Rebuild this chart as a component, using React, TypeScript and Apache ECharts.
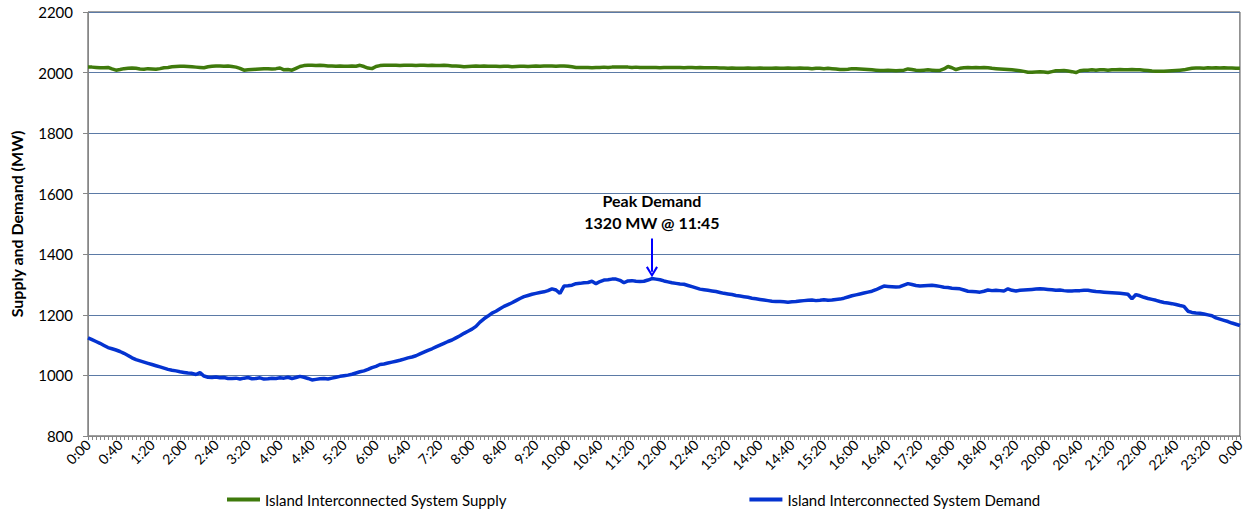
import React, { useEffect, useRef } from "react";
import * as echarts from "echarts";

// 5-minute intervals from 0:00 to 24:00 (shown as 0:00)
const categories: string[] = [];
for (let i = 0; i <= 288; i++) {
  const mins = i * 5;
  const h = Math.floor(mins / 60) % 24;
  const m = mins % 60;
  categories.push(`${h}:${m < 10 ? "0" + m : m}`);
}

const supply: number[] = [
  2018, 2018, 2017, 2016, 2016, 2017, 2012, 2008, 2010, 2013, 2014, 2015,
  2014, 2012, 2011, 2013, 2012, 2011, 2013, 2016, 2017, 2019, 2020, 2021,
  2021, 2020, 2019, 2018, 2017, 2016, 2019, 2021, 2022, 2022, 2021, 2022,
  2020, 2018, 2014, 2008, 2009, 2010, 2011, 2012, 2013, 2013, 2012, 2013,
  2015, 2009, 2010, 2008, 2014, 2020, 2023, 2024, 2024, 2023, 2024, 2023,
  2022, 2022, 2021, 2022, 2021, 2021, 2022, 2021, 2024, 2020, 2015, 2013,
  2020, 2023, 2024, 2024, 2024, 2024, 2023, 2024, 2024, 2024, 2023, 2024,
  2024, 2023, 2024, 2023, 2023, 2024, 2023, 2022, 2022, 2021, 2019, 2020,
  2021, 2022, 2021, 2022, 2021, 2021, 2021, 2020, 2021, 2021, 2019, 2020,
  2021, 2021, 2020, 2021, 2022, 2021, 2022, 2022, 2022, 2021, 2022, 2022,
  2021, 2019, 2017, 2017, 2017, 2017, 2016, 2017, 2017, 2018, 2017, 2018,
  2018, 2018, 2018, 2018, 2017, 2018, 2017, 2017, 2017, 2017, 2017, 2016,
  2017, 2017, 2017, 2017, 2017, 2016, 2017, 2017, 2016, 2017, 2016, 2016,
  2016, 2016, 2015, 2015, 2014, 2015, 2014, 2014, 2014, 2015, 2014, 2014,
  2015, 2014, 2014, 2014, 2015, 2014, 2014, 2015, 2014, 2014, 2015, 2014,
  2014, 2013, 2014, 2014, 2013, 2014, 2013, 2012, 2010, 2010, 2011, 2013,
  2013, 2012, 2011, 2010, 2009, 2008, 2007, 2007, 2008, 2007, 2006, 2007,
  2008, 2012, 2010, 2008, 2007, 2008, 2009, 2008, 2007, 2007, 2012, 2020,
  2016, 2010, 2014, 2016, 2017, 2016, 2017, 2016, 2017, 2016, 2014, 2013,
  2012, 2011, 2010, 2009, 2008, 2006, 2004, 2001, 2001, 2002, 2003, 2002,
  2000, 2003, 2006, 2006, 2007, 2005, 2003, 2000, 2006, 2008, 2008, 2009,
  2008, 2009, 2009, 2008, 2009, 2009, 2010, 2009, 2009, 2010, 2009, 2009,
  2008, 2007, 2005, 2004, 2004, 2004, 2005, 2006, 2007, 2008, 2009, 2012,
  2014, 2015, 2015, 2014, 2016, 2015, 2016, 2015, 2016, 2015, 2015, 2014,
  2014,
];

const demand: number[] = [
  1124, 1118, 1112, 1106, 1099, 1092, 1088, 1084, 1079, 1073, 1066, 1058,
  1052, 1048, 1044, 1040, 1036, 1032, 1028, 1024, 1020, 1017, 1015, 1012,
  1010, 1008, 1007, 1003, 1009, 998, 994, 993, 995, 992, 993, 990,
  990, 991, 988, 991, 993, 989, 990, 992, 988, 989, 991, 990,
  992, 991, 994, 990, 993, 997, 994, 990, 985, 987, 989, 990,
  988, 991, 994, 997, 999, 1001, 1004, 1008, 1012, 1015, 1020, 1026,
  1030, 1036, 1038, 1041, 1044, 1047, 1050, 1054, 1058, 1061, 1065, 1071,
  1077, 1083, 1088, 1094, 1100, 1106, 1112, 1117, 1124, 1131, 1139, 1146,
  1153, 1162, 1176, 1187, 1196, 1206, 1212, 1220, 1228, 1234, 1240, 1247,
  1254, 1260, 1264, 1268, 1271, 1274, 1276, 1280, 1286, 1282, 1271, 1295,
  1296, 1298, 1303, 1304, 1306, 1307, 1311, 1303, 1310, 1315, 1316, 1318,
  1318, 1314, 1306, 1312, 1313, 1311, 1310, 1311, 1315, 1320, 1318, 1316,
  1312, 1309, 1306, 1304, 1302, 1301, 1297, 1293, 1289, 1285, 1283, 1281,
  1279, 1277, 1274, 1271, 1269, 1267, 1264, 1262, 1260, 1258, 1255, 1253,
  1251, 1249, 1247, 1245, 1244, 1244, 1243, 1242, 1243, 1244, 1246, 1247,
  1248, 1249, 1247, 1248, 1250, 1248, 1249, 1251, 1252, 1255, 1259, 1263,
  1266, 1269, 1272, 1275, 1278, 1283, 1289, 1295, 1294, 1293, 1292, 1293,
  1298, 1303, 1300, 1297, 1295, 1296, 1297, 1298, 1296, 1294, 1291, 1290,
  1288, 1287, 1286, 1282, 1278, 1277, 1276, 1275, 1278, 1282, 1280, 1281,
  1280, 1279, 1286, 1281, 1279, 1281, 1282, 1283, 1284, 1285, 1286, 1285,
  1284, 1283, 1281, 1282, 1280, 1279, 1279, 1280, 1280, 1281, 1281, 1279,
  1277, 1276, 1275, 1274, 1273, 1272, 1271, 1270, 1268, 1253, 1267, 1263,
  1258, 1254, 1251, 1248, 1244, 1241, 1239, 1237, 1234, 1231, 1228, 1212,
  1208, 1206, 1205, 1203, 1200, 1197, 1190, 1186, 1182, 1178, 1173, 1169,
  1165,
];

const seriesNames = [
  "Island Interconnected System Supply",
  "Island Interconnected System Demand",
];
const peakTime = "11:45";
const peakValue = 1320;
const peakLabel = ["Peak Demand", `${peakValue} MW @ ${peakTime}`];

const FONT = "Lato, 'Open Sans', sans-serif";
const CHEVRON = "path://M0,10 L6,0 L12,10 L10.2,11.2 L6,4 L1.8,11.2 Z";

export default function App() {
  const ref = useRef<HTMLDivElement>(null);
  useEffect(() => {
    if (!ref.current) return;
    const chart = echarts.init(ref.current, undefined, { renderer: "svg" });
    chart.setOption({
      animation: false,
      backgroundColor: "#ffffff",
      textStyle: { fontFamily: FONT },
      grid: {
        left: 81,
        top: 12,
        width: 1162,
        height: 424,
        show: true,
        borderColor: "#404040",
        borderWidth: 1,
        backgroundColor: "transparent",
      },
      legend: {
        bottom: 2,
        left: 222,
        itemGap: 243,
        itemWidth: 33,
        itemHeight: 4,
        icon: "rect",
        textStyle: { fontFamily: FONT, fontSize: 15, color: "#000" },
        data: seriesNames,
      },
      xAxis: {
        type: "category",
        data: categories,
        boundaryGap: false,
        axisLine: { lineStyle: { color: "#868686" } },
        axisTick: { interval: 0, length: 4, lineStyle: { color: "#868686" } },
        axisLabel: {
          interval: 7,
          rotate: 45,
          fontSize: 14,
          color: "#000",
          fontFamily: FONT,
          margin: 6,
        },
        splitLine: { show: false },
      },
      yAxis: {
        type: "value",
        min: 800,
        max: 2200,
        interval: 200,
        name: "Supply and Demand (MW)",
        nameLocation: "middle",
        nameRotate: 90,
        nameGap: 64,
        nameTextStyle: {
          fontFamily: FONT,
          fontWeight: "bold",
          fontSize: 16,
          color: "#000",
        },
        axisLine: { show: true, lineStyle: { color: "#868686" } },
        axisTick: { show: true, length: 5, lineStyle: { color: "#868686" } },
        axisLabel: {
          fontSize: 15,
          color: "#000",
          fontFamily: FONT,
          margin: 15,
          formatter: (v: number) => String(v),
        },
        splitLine: { show: true, lineStyle: { color: "#5b7aa6", width: 1 } },
      },
      series: [
        {
          name: seriesNames[0],
          type: "line",
          data: supply,
          showSymbol: false,
          symbol: "none",
          lineStyle: { color: "#3f7a0c", width: 3.5 },
          itemStyle: { color: "#3f7a0c" },
        },
        {
          name: seriesNames[1],
          type: "line",
          data: demand,
          showSymbol: false,
          symbol: "none",
          lineStyle: { color: "#0433d0", width: 3.5 },
          itemStyle: { color: "#0433d0" },
          markLine: {
            silent: true,
            animation: false,
            symbol: ["none", CHEVRON],
            symbolSize: [12, 11],
            itemStyle: { color: "#0000ff" },
            lineStyle: { color: "#0000ff", width: 2, type: "solid" },
            label: {
              show: true,
              position: "start",
              distance: 5,
              formatter: peakLabel.join("\n"),
              fontFamily: FONT,
              fontWeight: "bold",
              fontSize: 16,
              lineHeight: 22,
              color: "#000",
            },
            data: [
              [
                { coord: [peakTime, 1452] },
                { coord: [peakTime, 1342] },
              ],
            ],
          },
        },
      ],
    });
    return () => chart.dispose();
  }, []);
  return (
    <div
      ref={ref}
      style={{ position: "absolute", left: 0, top: 0, width: 1247, height: 514 }}
    />
  );
}
